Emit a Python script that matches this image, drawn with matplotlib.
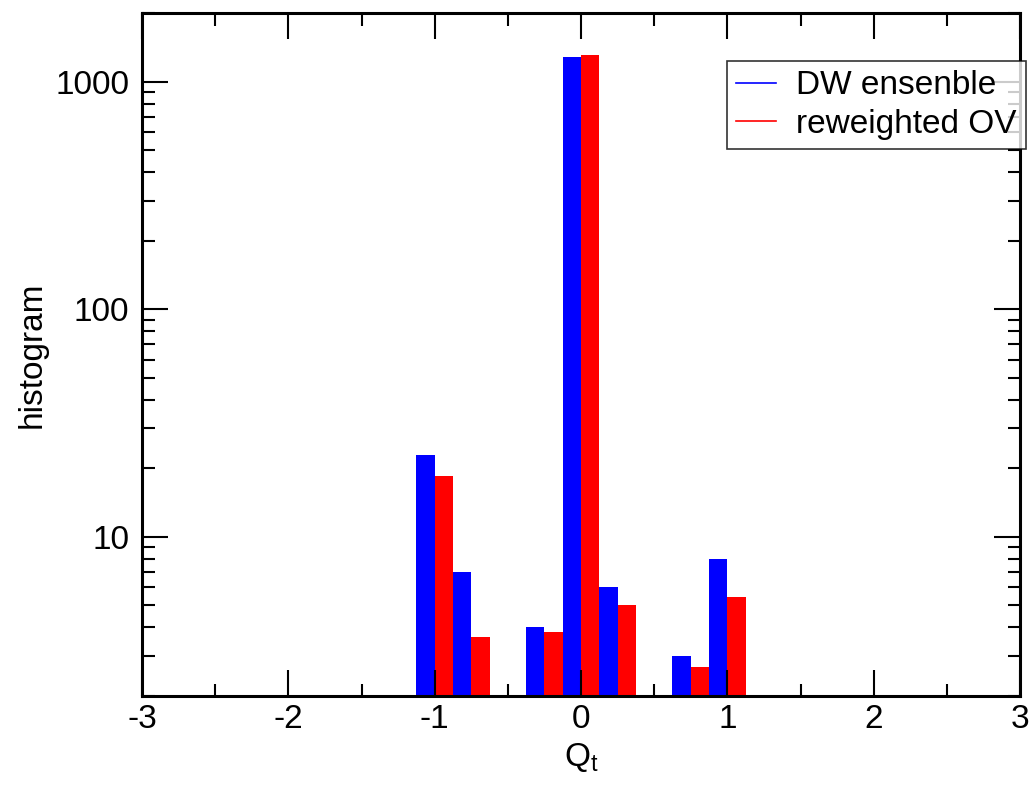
import matplotlib.pyplot as plt
import numpy as np
from matplotlib.lines import Line2D
from matplotlib.ticker import LogLocator, FixedLocator, MultipleLocator, NullFormatter

plt.rcParams['font.family'] = ['Liberation Sans', 'DejaVu Sans']
plt.rcParams['mathtext.fontset'] = 'custom'
plt.rcParams['mathtext.rm'] = 'Liberation Sans'

# topological charge bins and counts
q_bins = [-1.0, -0.75, -0.25, 0.0, 0.25, 0.75, 1.0]
dw_counts = [23, 7, 4, 1276, 6, 3, 8]
ov_counts = [18.5, 3.63, 3.84, 1302, 5.03, 2.69, 5.45]
x_ticks = [-3, -2, -1, 0, 1, 2, 3]
y_ticks = [10, 100, 1000]
half = 0.125

fig = plt.figure(figsize=(10.3, 7.85), dpi=100)
ax = fig.add_axes([142/1030, 1 - 696/785, 878/1030, 683/785])
ax.set_yscale('log')

q = np.array(q_bins)
ax.bar(q - half/2, dw_counts, width=half, color='#0000ff', linewidth=0)
ax.bar(q + half/2, ov_counts, width=half, color='#ff0000', linewidth=0)

ax.set_xlim(-3, 3)
ax.set_ylim(2, 2000)
ax.xaxis.set_major_locator(FixedLocator(x_ticks))
ax.xaxis.set_minor_locator(MultipleLocator(0.5))
ax.yaxis.set_major_locator(FixedLocator(y_ticks))
ax.yaxis.set_minor_locator(LogLocator(base=10, subs=np.arange(2, 10)))
ax.yaxis.set_minor_formatter(NullFormatter())
ax.set_xticklabels([str(t) for t in x_ticks])
ax.set_yticklabels([str(t) for t in y_ticks])

ax.tick_params(which='both', direction='in', top=True, right=True,
               labelsize=24, width=1.5)
ax.tick_params(axis='x', pad=6)
ax.tick_params(axis='y', pad=9)
ax.tick_params(which='major', length=19)
ax.tick_params(which='minor', length=9)
for s in ax.spines.values():
    s.set_linewidth(2.2)

ax.set_xlabel(r'Q$_\mathregular{t}$', fontsize=24, labelpad=4)
ax.set_ylabel('histogram', fontsize=24, labelpad=6)

handles = [Line2D([], [], color='#0000ff', lw=1.2),
           Line2D([], [], color='#ff0000', lw=1.2)]
leg = ax.legend(handles, ['DW ensenble', 'reweighted OV'], loc='upper left',
                bbox_to_anchor=(727/1030, 1 - 61/785), bbox_transform=fig.transFigure,
                borderaxespad=0, fontsize=24, frameon=True, fancybox=False,
                handlelength=1.2, handletextpad=0.6, labelspacing=0.22,
                borderpad=0.28)
leg.get_frame().set_edgecolor('black')
leg.get_frame().set_linewidth(1.2)
leg.set_zorder(10)

fig.savefig('out.png', dpi=100)
